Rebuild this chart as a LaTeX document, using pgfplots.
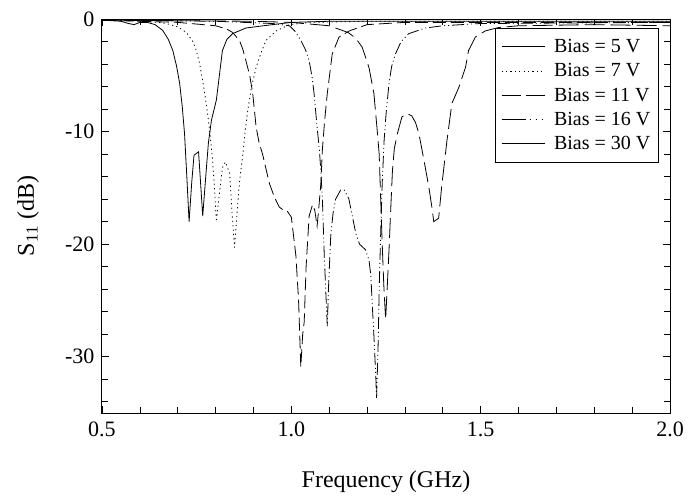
\documentclass[border=0pt]{standalone}
\usepackage{pgfplots}
\pgfplotsset{compat=1.18}
\usepackage{fontspec}
\setmainfont{Liberation Serif}
\begin{document}
\begin{tikzpicture}
\useasboundingbox (-102pt,-83pt) rectangle (594pt,413pt);
\begin{axis}[
  scale only axis, width=568pt, height=394pt,
  xmin=0.5, xmax=2.0, ymin=-35, ymax=0,
  xtick={0.5,1.0,1.5,2.0}, xticklabels={0.5,1.0,1.5,2.0},
  ytick={-30,-20,-10,0}, yticklabels={-30,-20,-10,0},
  minor xtick={0.6,0.7,0.8,0.9,1.1,1.2,1.3,1.4,1.6,1.7,1.8,1.9},
  minor ytick={-34,-32,-28,-26,-24,-22,-18,-16,-14,-12,-8,-6,-4,-2},
  tick align=inside, major tick length=7pt, minor tick length=6pt,
  tick style={black, line width=0.7pt},
  axis line style={black, line width=1pt},
  ticklabel style={font=\fontsize{22}{26}\selectfont},
  xticklabel style={yshift=-5pt},
  yticklabel style={xshift=-4pt},
  label style={font=\fontsize{24}{28}\selectfont},
  xlabel={Frequency (GHz)},
  ylabel={S\textsubscript{11} (dB)},
  xlabel style={at={(axis description cs:0.5,-0.175)}, anchor=center},
  ylabel style={at={(axis description cs:-0.13,0.5)}, anchor=center},
  legend image code/.code={\draw[#1] (0pt,0pt) -- (43pt,0pt);},
  legend style={at={(axis description cs:0.98,0.977)}, anchor=north east,
    draw=black, line width=0.7pt, font=\fontsize{20}{23}\selectfont,
    inner xsep=6pt, inner ysep=9pt, row sep=5.5pt,
    cells={anchor=west}},
  legend cell align=left,
  every axis plot/.append style={black, line width=0.8pt},
]
% Bias = 5 V (solid)
\addplot[forget plot, solid] coordinates {
(0.5,-0.1)(0.55,-0.2)(0.57,-0.4)(0.585,-0.5)(0.6,-0.3)(0.62,-0.3)(0.64,-0.5)
(0.66,-1.0)(0.675,-1.8)(0.687,-2.8)(0.697,-4.2)(0.705,-5.7)(0.712,-7.8)
(0.718,-10.2)(0.724,-14)(0.73,-18)(0.737,-14.5)(0.743,-12.1)(0.755,-11.8)
(0.766,-17.5)(0.774,-14)(0.781,-11)(0.789,-9)(0.802,-7.2)(0.81,-5)
(0.818,-2.8)(0.83,-1.8)(0.845,-1.3)(0.88,-0.8)(0.95,-0.5)(1.0,-0.3)
(1.1,-0.2)(1.4,-0.2)(1.7,-0.2)(2.0,-0.2)};
% Bias = 7 V (dotted)
\addplot[forget plot, dash pattern=on 1.2pt off 3.2pt] coordinates {
(0.5,-0.1)(0.6,-0.2)(0.65,-0.3)(0.67,-0.4)(0.7,-0.7)(0.723,-1.2)(0.74,-2.0)
(0.749,-2.8)(0.758,-4)(0.766,-5.5)(0.773,-7)(0.78,-8.7)(0.786,-10.5)
(0.792,-12.5)(0.797,-15)(0.802,-18)(0.81,-15.5)(0.818,-13.2)(0.826,-12.7)
(0.837,-13.7)(0.843,-17)(0.85,-20.3)(0.856,-17.5)(0.863,-14.5)(0.872,-12)
(0.878,-10)(0.885,-8.1)(0.895,-6)(0.907,-4.3)(0.92,-3)(0.933,-1.9)
(0.96,-1.06)(0.995,-0.5)(1.05,-0.3)(1.2,-0.2)(1.6,-0.2)(2.0,-0.2)};
% Bias = 11 V (dashed)
\addplot[forget plot, dash pattern=on 13pt off 5pt] coordinates {
(0.5,-0.1)(0.7,-0.3)(0.8,-0.6)(0.83,-0.9)(0.845,-1.2)(0.863,-1.9)
(0.872,-2.7)(0.88,-3.7)(0.89,-5)(0.898,-6.6)(0.907,-9.6)(0.915,-11)
(0.924,-12)(0.933,-13.3)(0.942,-14.6)(0.955,-15.8)(0.968,-16.7)(0.98,-17)
(0.99,-17.1)(1.0,-17.6)(1.012,-21)(1.019,-24.9)(1.025,-30.9)(1.03,-28)
(1.034,-26.9)(1.039,-22)(1.047,-17.5)(1.056,-16.5)(1.062,-17)(1.068,-18.4)
(1.072,-17)(1.078,-14.6)(1.082,-11.6)(1.088,-9)(1.095,-6.6)(1.108,-3.1)
(1.126,-1.6)(1.153,-1.06)(1.2,-0.5)(1.3,-0.3)(1.5,-0.3)(2.0,-0.3)};
% Bias = 16 V (dash dot dot)
\addplot[forget plot, dash pattern=on 12pt off 3pt on 1pt off 3pt on 1pt off 3pt] coordinates {
(0.5,-0.1)(0.8,-0.2)(0.95,-0.4)(0.995,-0.6)(1.01,-1.1)(1.025,-1.9)
(1.037,-2.7)(1.047,-3.7)(1.055,-5.2)(1.06,-6.6)(1.068,-9.6)(1.074,-11.6)
(1.078,-13.5)(1.082,-16)(1.087,-21)(1.092,-25)(1.095,-27.3)(1.098,-24)
(1.104,-19.3)(1.11,-17.3)(1.117,-16)(1.13,-15.2)(1.14,-15.2)(1.152,-16)
(1.161,-17.5)(1.17,-19)(1.18,-20)(1.196,-20.5)(1.205,-21.4)(1.21,-22.8)
(1.213,-24.9)(1.218,-28.1)(1.223,-31.7)(1.225,-33.7)(1.229,-29.3)
(1.232,-24)(1.236,-19)(1.24,-14.6)(1.245,-10.8)(1.25,-8.5)(1.258,-5.7)
(1.265,-4.2)(1.275,-3.1)(1.29,-2.0)(1.31,-1.3)(1.354,-0.8)(1.4,-0.6)
(1.5,-0.4)(2.0,-0.3)};
% Bias = 30 V (long dashes)
\addplot[forget plot, dash pattern=on 20pt off 6pt] coordinates {
(0.5,-0.1)(0.9,-0.2)(1.0,-0.3)(1.1,-0.6)(1.15,-1.2)(1.17,-1.7)(1.187,-2.5)
(1.205,-4.3)(1.218,-6.6)(1.226,-9.6)(1.232,-12)(1.236,-16)(1.24,-20)
(1.244,-23.5)(1.249,-26.7)(1.253,-24)(1.258,-20.5)(1.263,-16.5)
(1.267,-13.5)(1.272,-11.5)(1.28,-10.2)(1.292,-8.7)(1.305,-8.4)(1.318,-8.6)
(1.328,-9.2)(1.337,-10.2)(1.35,-12.5)(1.363,-14.9)(1.372,-16.9)(1.376,-18)
(1.389,-17.7)(1.397,-14.9)(1.411,-10.8)(1.424,-7.5)(1.442,-6.1)(1.46,-4.3)
(1.468,-2.8)(1.486,-1.6)(1.512,-1.06)(1.547,-0.76)(1.6,-0.6)(1.8,-0.5)
(2.0,-0.6)};
\addlegendimage{black, line width=0.8pt, solid}
\addlegendentry{\hspace*{7pt}Bias = 5 V}
\addlegendimage{black, line width=0.8pt, dash pattern=on 1.2pt off 3.2pt}
\addlegendentry{\hspace*{7pt}Bias = 7 V}
\addlegendimage{black, line width=0.8pt, dash pattern=on 19pt off 5pt}
\addlegendentry{\hspace*{7pt}Bias = 11 V}
\addlegendimage{black, line width=0.8pt, dash pattern=on 24pt off 4pt on 1pt off 5pt on 1pt off 5pt on 1pt off 10pt}
\addlegendentry{\hspace*{7pt}Bias = 16 V}
\addlegendimage{black, line width=0.8pt, solid}
\addlegendentry{\hspace*{7pt}Bias = 30 V}
\end{axis}
\end{tikzpicture}
\end{document}
